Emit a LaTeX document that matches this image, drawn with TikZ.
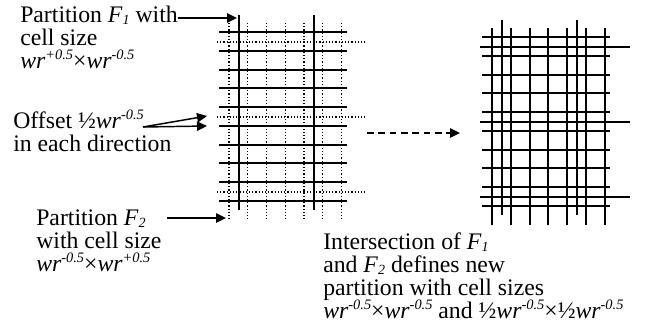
\documentclass[tikz,border=0pt]{standalone}
\usepackage{fontspec}
\setmainfont{Liberation Serif}
\usetikzlibrary{arrows.meta}

\newcommand{\sups}[1]{\raisebox{0.36em}{\fontsize{10.8pt}{10.8pt}\selectfont\itshape #1}}
\newcommand{\subs}[1]{\raisebox{-0.1em}{\fontsize{10.5pt}{10.5pt}\selectfont\itshape #1}}
\newcommand{\wrpow}[1]{\textit{wr}\sups{#1}}
\newcommand{\Fi}[1]{\textit{F}\subs{#1}}
% F1 lines in style #1, F2 lines in style #2
\newcommand{\cellgrid}[2]{%
  \foreach \k in {0,...,9} \draw[#1] (219,32+18.75*\k) -- (347,32+18.75*\k);
  \foreach \xx in {239,314} \draw[#1] (\xx,15) -- (\xx,210);
  \foreach \k in {0,...,6} \draw[#2] (229+18.75*\k,23) -- (229+18.75*\k,220);
  \foreach \yy in {42,117,192} \draw[#2] (217,\yy) -- (367,\yy);
}

\begin{document}
\begin{tikzpicture}[x=0.75pt,y=-0.75pt,
  lbl/.style={anchor=base west,inner sep=0pt,font=\fontsize{17.8pt}{17pt}\selectfont},
  solid line/.style={line width=1.5pt},
  dot line/.style={line width=0.9pt,dash pattern=on 0.9pt off 1.5pt},
  arr/.style={line width=1.1pt,-{Triangle[length=7.5pt,width=7pt]}}]
  \useasboundingbox (0,0) rectangle (649,332);
  % partitions F1 and F2
  \cellgrid{solid line}{dot line}
  % their intersection
  \begin{scope}[shift={(263,5)}]
   \cellgrid{solid line}{solid line}
  \end{scope}
  % labels
  \node[lbl](f1a) at (20,22){Partition \Fi{1} with};
  \node[lbl](f1b) at (20,45){cell size};
  \node[lbl](f1c) at (20,68){\wrpow{+0.5}×\wrpow{-0.5}};
  \node[lbl](ofa) at (13,128){Offset ½\wrpow{-0.5}};
  \node[lbl](ofb) at (13,151){in each direction};
  \node[lbl](f2a) at (36,225){Partition \Fi{2}};
  \node[lbl](f2b) at (36,248){with cell size};
  \node[lbl](f2c) at (36,271){\wrpow{-0.5}×\wrpow{+0.5}};
  \node[lbl](isa) at (323,249){Intersection of \Fi{1}};
  \node[lbl](isb) at (323,272){and \Fi{2} defines new};
  \node[lbl](isc) at (323,295){partition with cell sizes};
  \node[lbl](isd) at (323,318){\wrpow{-0.5}×\wrpow{-0.5} and ½\wrpow{-0.5}×½\wrpow{-0.5}};
  % arrows
  \coordinate (f1s) at (178,18);\coordinate (f1e) at (237,18);
  \coordinate (ofs) at (143,127);\coordinate (ofe1) at (207,116);\coordinate (ofe2) at (207,126);
  \coordinate (f2s) at (167,218);\coordinate (f2e) at (226,218);
  \coordinate (ds) at (367,133);\coordinate (de) at (460,133);
  \draw[arr](f1s)--(f1e);
  \draw[arr](ofs)--(ofe1);\draw[arr](ofs)--(ofe2);
  \draw[arr](f2s)--(f2e);
  \draw[arr,dash pattern=on 5pt off 3.5pt](ds)--(de);
\end{tikzpicture}
\end{document}
